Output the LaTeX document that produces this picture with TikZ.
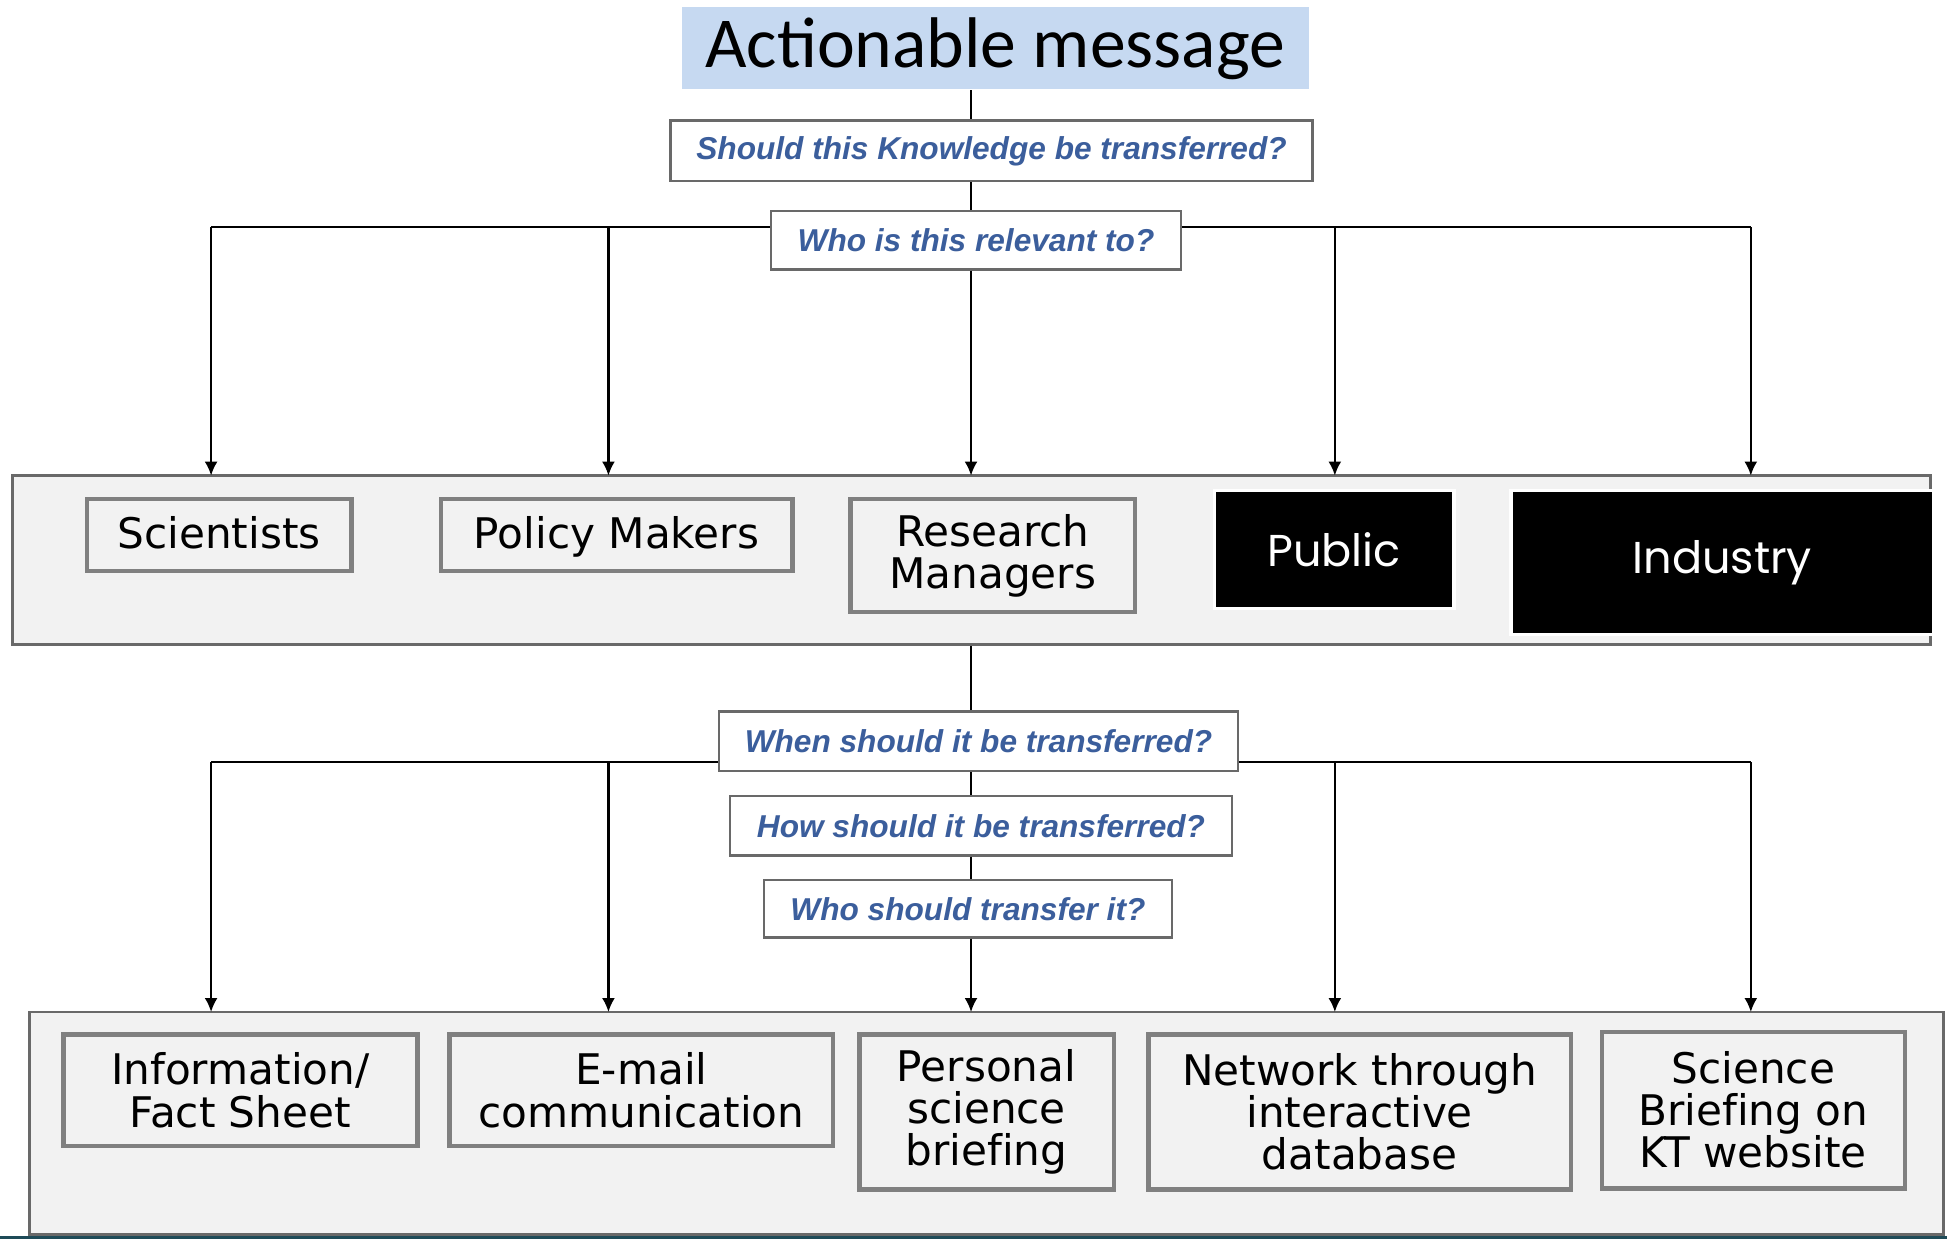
\documentclass[tikz,border=0pt]{standalone}
\usepackage{fontspec}
\usetikzlibrary{arrows.meta}

\newfontfamily\titlefont{Carlito}
\newfontfamily\boxfont{DejaVu Sans}[Ligatures=NoCommon]
\newfontfamily\askfont{Liberation Sans}
\newfontfamily\gothicfont{Poppins}

\definecolor{titleblue}{RGB}{198,217,241}
\definecolor{askblue}{RGB}{59,94,156}
\definecolor{panelgray}{RGB}{242,242,242}
\definecolor{edgegray}{RGB}{105,105,105}
\definecolor{boxgray}{RGB}{128,128,128}
\definecolor{stripteal}{RGB}{30,75,88}

\def\unitpx{0.012417cm}

\tikzset{
	dims/.style 2 args={minimum width=#1*\unitpx, minimum height=#2*\unitpx},
	group/.style={draw=edgegray, line width=0.8pt, fill=panelgray, inner sep=0pt},
	item/.style={draw=boxgray, line width=1.3pt, fill=panelgray, inner sep=0pt,
		align=center, font=\boxfont\fontsize{12}{12}\selectfont},
	oneline/.style={text height=0.73em, text depth=0pt},
	dark/.style={draw=white, line width=1pt, fill=black, text=white, inner sep=0pt,
		font=\gothicfont\fontsize{12.7}{14}\selectfont},
	ask/.style={draw=edgegray, line width=0.6pt, fill=white, text=askblue, inner sep=0pt,
		font=\askfont\bfseries\itshape\fontsize{9}{10}\selectfont},
	wire/.style={line width=0.6pt},
}

\begin{document}
\begin{tikzpicture}[x=0.012417cm, y=-0.012417cm, >={Latex[length=1.4mm,width=1.3mm]}]
	\useasboundingbox (0,0) rectangle (1568,998);

	% heading and questions
	\node[fill=titleblue, inner sep=0pt, dims={505}{66},
		font=\titlefont\fontsize{20.4}{24}\selectfont] (title) at (801.5,39) {Actionable message};
	\node[ask, dims={517}{49}] (should) at (798.5,121.5) {Should this Knowledge be transferred?};
	\node[ask, dims={330}{47}] (who) at (786,193.5) {Who is this relevant to?};

	% audiences
	\node[group, dims={1545}{136}] (groupA) at (782.5,451) {};
	\node[item, oneline, dims={213}{58}] (sci) at (176.5,431) {Scientists};
	\node[item, oneline, dims={283}{58}] (pol) at (496.5,431) {Policy Makers};
	\node[item, dims={229}{91}] (res) at (799.5,447.5) {Research\\Managers};
	\node[dark, dims={193}{95}] (pub) at (1074.5,442.5) {Public};
	\node[dark, dims={340}{116}] (ind) at (1387,453) {Industry};

	% transfer questions
	\node[ask, dims={418}{48}] (when) at (788,597) {When should it be transferred?};
	\node[ask, dims={404}{48}] (how) at (790,665) {How should it be transferred?};
	\node[ask, dims={329}{46}] (whot) at (779.5,732) {Who should transfer it?};

	% channels
	\node[group, dims={1541}{179}] (groupB) at (794.5,904.5) {};
	\node[item, dims={285}{90}] (info) at (193.5,878) {Information/\\Fact Sheet};
	\node[item, dims={309}{90}] (mail) at (516.5,878) {E-mail\\communication};
	\node[item, dims={205}{125}] (pers) at (794.5,895.5) {Personal\\science\\briefing};
	\node[item, dims={340}{125}] (net) at (1095,895.5) {Network through\\interactive\\database};
	\node[item, dims={244}{126}] (web) at (1412,894) {Science\\Briefing on\\KT website};

	\fill[stripteal] (0,995) rectangle (1568,998);

	\foreach \x [count=\i] in {170,490,782,1075,1410} {
			\coordinate (a\i) at (\x,383);
			\coordinate (b\i) at (\x,815);
		}
	\coordinate (busA) at (782,183);
	\coordinate (busB) at (782,614);

	\draw[wire] (title.south -| a3) -- (should.north -| a3);
	\draw[wire] (should.south -| a3) -- (who.north -| a3);
	\draw[wire] (a1 |- busA) -- (who.west |- busA);
	\draw[wire] (who.east |- busA) -- (a5 |- busA);
	\draw[wire, ->] (who.south -| a3) -- (a3);
	\foreach \i in {1,2,4,5} {
			\draw[wire, ->] (a\i |- busA) -- (a\i);
		}

	\draw[wire] (groupA.south -| a3) -- (when.north -| a3);
	\draw[wire] (when.south -| a3) -- (how.north -| a3);
	\draw[wire] (how.south -| a3) -- (whot.north -| a3);
	\draw[wire] (b1 |- busB) -- (when.west |- busB);
	\draw[wire] (when.east |- busB) -- (b5 |- busB);
	\draw[wire, ->] (whot.south -| b3) -- (b3);
	\foreach \i in {1,2,4,5} {
			\draw[wire, ->] (b\i |- busB) -- (b\i);
		}
\end{tikzpicture}
\end{document}
